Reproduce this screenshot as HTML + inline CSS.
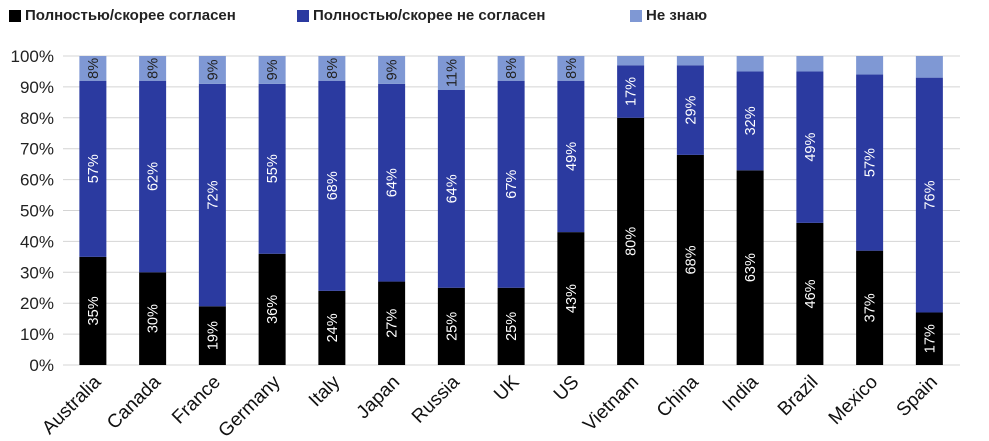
<!DOCTYPE html>
<html><head><meta charset="utf-8"><style>
body{margin:0;background:#fff;width:989px;height:441px;overflow:hidden;font-family:"Liberation Sans",sans-serif}
.leg{position:absolute;top:7px;font-size:15px;font-weight:bold;color:#222;display:flex;align-items:center}
.leg i{display:inline-block;width:12px;height:12px;margin-right:4px}
</style></head><body>
<div class="leg" style="left:9px"><i style="background:#000"></i>Полностью/скорее согласен</div>
<div class="leg" style="left:297px"><i style="background:#2b3aa0"></i>Полностью/скорее не согласен</div>
<div class="leg" style="left:630px"><i style="background:#7f98d4"></i>Не знаю</div>
<svg id="c" width="989" height="441" style="position:absolute;left:0;top:0"></svg>
<script>
const categories=["Australia","Canada","France","Germany","Italy","Japan","Russia","UK","US","Vietnam","China","India","Brazil","Mexico","Spain"];
const agree=[35,30,19,36,24,27,25,25,43,80,68,63,46,37,17];
const disagree=[57,62,72,55,68,64,64,67,49,17,29,32,49,57,76];
const dontKnow=[8,8,9,9,8,9,11,8,8,3,3,5,5,6,7];
const ticks=[0,10,20,30,40,50,60,70,80,90,100];
const svg=document.getElementById('c');const NS='http://www.w3.org/2000/svg';
const y0=365,y100=56,x0=63,step=59.75,bw=27;
const y=v=>y0-(y0-y100)*v/100;
const xc=i=>x0+step*(i+0.5);
function mk(t,a,p){const e=document.createElementNS(NS,t);for(const k in a)e.setAttribute(k,a[k]);(p||svg).appendChild(e);return e;}
ticks.forEach(t=>{
 const l=mk('line',{x1:x0,x2:960,y1:y(t),y2:y(t),stroke:'#d4d4d4','stroke-width':1});
 
 
 const tx=mk('text',{x:54,y:y(t)+6,'text-anchor':'end','font-size':17,fill:'#222'});tx.textContent=t+'%';
 
 
});
const series=[[agree,'#000','agree'],[disagree,'#2b3aa0','disagree'],[dontKnow,'#7f98d4','dont-know']];
categories.forEach((c,i)=>{
 let base=0;
 series.forEach(([arr,col,nm])=>{
  const v=arr[i];
  const r=mk('rect',{x:xc(i)-bw/2,y:y(base+v),width:bw,height:y(base)-y(base+v),fill:col});
  
  
  if(v>=8){
   const cy=(y(base)+y(base+v))/2, cx=xc(i);
   const t=mk('text',{x:cx+5,y:cy,'text-anchor':'middle','font-size':14.5,fill:nm==='dont-know'?'#222':'#fff',transform:`rotate(-90 ${cx+5} ${cy})`});
   t.textContent=v+'%';
   
   
  }
  base+=v;
 });
 const lx=xc(i)+9,ly=383;
 const t=mk('text',{x:lx,y:ly,'text-anchor':'end','font-size':19,fill:'#111',transform:`rotate(-45 ${lx} ${ly})`});
 t.textContent=c;
 
 
});
</script>
</body></html>
